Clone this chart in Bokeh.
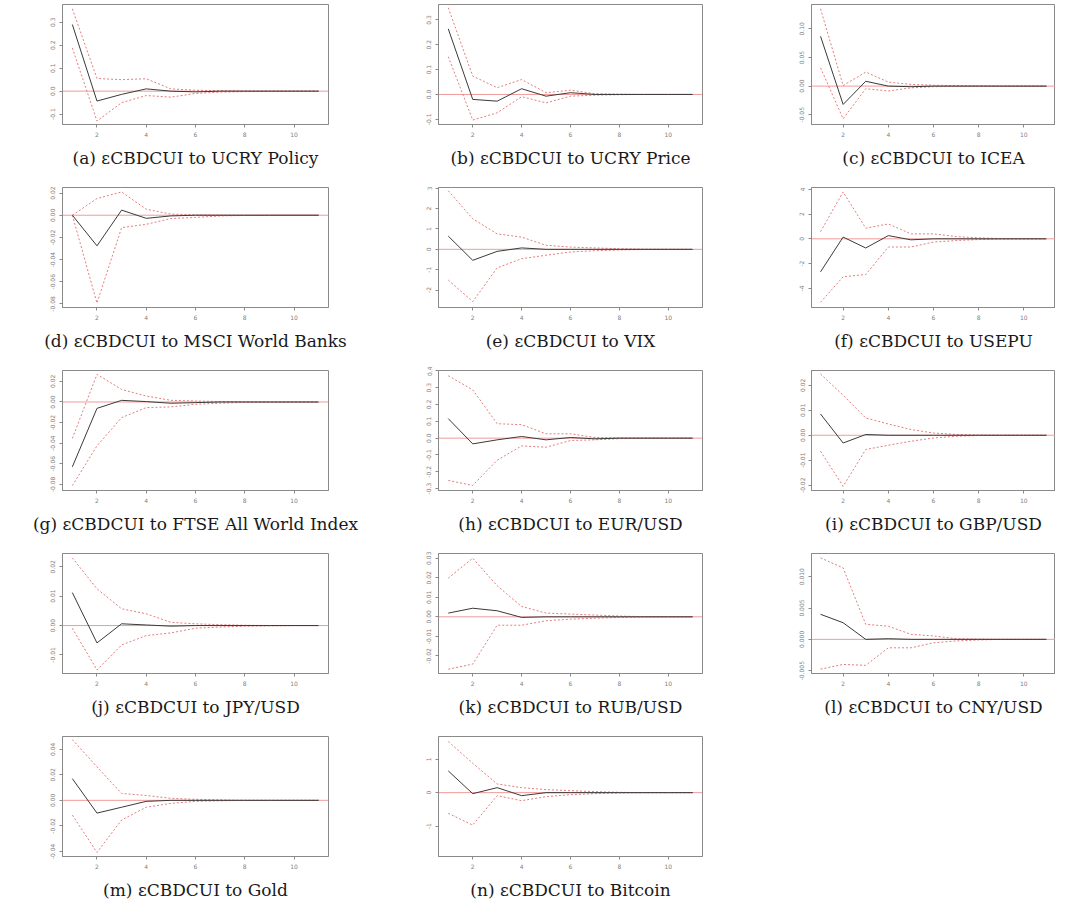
from bokeh.plotting import figure
from bokeh.layouts import gridplot
from bokeh.models import Range1d, FixedTicker, PrintfTickFormatter, Span
from bokeh.embed import file_html
from bokeh.resources import INLINE

horizon = [1, 2, 3, 4, 5, 6, 7, 8, 9, 10, 11]
x_ticks = [2, 4, 6, 8, 10]

captions = [
    "(a) \u03b5CBDCUI to UCRY Policy",
    "(b) \u03b5CBDCUI to UCRY Price",
    "(c) \u03b5CBDCUI to ICEA",
    "(d) \u03b5CBDCUI to MSCI World Banks",
    "(e) \u03b5CBDCUI to VIX",
    "(f) \u03b5CBDCUI to USEPU",
    "(g) \u03b5CBDCUI to FTSE All World Index",
    "(h) \u03b5CBDCUI to EUR/USD",
    "(i) \u03b5CBDCUI to GBP/USD",
    "(j) \u03b5CBDCUI to JPY/USD",
    "(k) \u03b5CBDCUI to RUB/USD",
    "(l) \u03b5CBDCUI to CNY/USD",
    "(m) \u03b5CBDCUI to Gold",
    "(n) \u03b5CBDCUI to Bitcoin",
]

# (a) UCRY Policy
irf_a = [0.290, -0.043, -0.014, 0.010, 0.000, -0.003, 0.000, 0.000, 0.000, 0.000, 0.000]
hi_a = [0.358, 0.055, 0.050, 0.054, 0.010, 0.004, 0.002, 0.001, 0.001, 0.000, 0.000]
lo_a = [0.188, -0.130, -0.050, -0.019, -0.026, -0.010, -0.004, -0.002, -0.001, 0.000, 0.000]
ylim_a = [-0.145, 0.377]
yticks_a = [-0.1, 0.0, 0.1, 0.2, 0.3]

# (b) UCRY Price
irf_b = [0.264, -0.020, -0.027, 0.023, -0.007, 0.007, 0.000, 0.000, 0.000, 0.000, 0.000]
hi_b = [0.349, 0.074, 0.027, 0.060, 0.007, 0.017, 0.003, 0.001, 0.000, 0.000, 0.000]
lo_b = [0.152, -0.103, -0.074, -0.009, -0.034, -0.007, -0.003, -0.001, 0.000, 0.000, 0.000]
ylim_b = [-0.121, 0.362]
yticks_b = [-0.1, 0.0, 0.1, 0.2, 0.3]

# (c) ICEA
irf_c = [0.087, -0.032, 0.0085, 0.000, -0.001, 0.000, 0.000, 0.000, 0.000, 0.000, 0.000]
hi_c = [0.135, 0.001, 0.0245, 0.007, 0.003, 0.0015, 0.001, 0.0005, 0.000, 0.000, 0.000]
lo_c = [0.032, -0.057, -0.0045, -0.0085, -0.003, -0.001, -0.0005, 0.000, 0.000, 0.000, 0.000]
ylim_c = [-0.067, 0.1425]
yticks_c = [-0.05, 0.0, 0.05, 0.10]

# (d) MSCI World Banks
irf_d = [0.000, -0.0276, 0.0046, -0.0028, -0.0006, 0.000, 0.000, 0.000, 0.000, 0.000, 0.000]
hi_d = [0.000, 0.015, 0.021, 0.0054, 0.001, 0.0004, 0.0002, 0.000, 0.000, 0.000, 0.000]
lo_d = [0.000, -0.0792, -0.0112, -0.0082, -0.003, -0.002, -0.0006, -0.0002, 0.000, 0.000, 0.000]
ylim_d = [-0.0832, 0.025]
yticks_d = [-0.08, -0.06, -0.04, -0.02, 0.0, 0.02]

# (e) VIX
irf_e = [0.65, -0.54, -0.10, 0.07, 0.00, 0.00, 0.00, 0.00, 0.00, 0.00, 0.00]
hi_e = [2.88, 1.50, 0.76, 0.60, 0.20, 0.11, 0.07, 0.03, 0.01, 0.00, 0.00]
lo_e = [-1.51, -2.57, -0.91, -0.46, -0.29, -0.13, -0.07, -0.03, -0.01, 0.00, 0.00]
ylim_e = [-2.86, 3.04]
yticks_e = [-2, -1, 0, 1, 2, 3]

# (f) USEPU
irf_f = [-2.66, 0.14, -0.74, 0.26, -0.08, 0.00, 0.00, 0.00, 0.00, 0.00, 0.00]
hi_f = [0.58, 3.78, 0.86, 1.20, 0.40, 0.40, 0.18, 0.08, 0.02, 0.00, 0.00]
lo_f = [-5.12, -3.06, -2.88, -0.66, -0.66, -0.26, -0.14, -0.06, -0.02, 0.00, 0.00]
ylim_f = [-5.54, 4.14]
yticks_f = [-4, -2, 0, 2, 4]

# (g) FTSE All World Index
irf_g = [-0.063, -0.0062, 0.0016, 0.0004, -0.0012, -0.0006, 0.000, 0.000, 0.000, 0.000, 0.000]
hi_g = [-0.0354, 0.0268, 0.0122, 0.0058, 0.0016, 0.001, 0.0004, 0.0002, 0.000, 0.000, 0.000]
lo_g = [-0.0812, -0.0426, -0.0152, -0.0054, -0.0048, -0.0022, -0.0012, -0.0004, -0.0002, 0.000, 0.000]
ylim_g = [-0.086, 0.0306]
yticks_g = [-0.08, -0.06, -0.04, -0.02, 0.0, 0.02]

# (h) EUR/USD
irf_h = [0.116, -0.034, -0.010, 0.010, -0.010, 0.004, -0.004, 0.000, 0.000, 0.000, 0.000]
hi_h = [0.371, 0.287, 0.086, 0.080, 0.026, 0.026, 0.004, 0.002, 0.001, 0.000, 0.000]
lo_h = [-0.251, -0.281, -0.131, -0.046, -0.054, -0.014, -0.010, -0.003, -0.001, 0.000, 0.000]
ylim_h = [-0.311, 0.402]
yticks_h = [-0.3, -0.2, -0.1, 0.0, 0.1, 0.2, 0.3, 0.4]

# (i) GBP/USD
irf_i = [0.0085, -0.0031, 0.0003, 0.000, 0.000, 0.000, 0.000, 0.000, 0.000, 0.000, 0.000]
hi_i = [0.0245, 0.016, 0.0069, 0.0045, 0.0023, 0.0009, 0.0003, 0.0001, 0.000, 0.000, 0.000]
lo_i = [-0.0064, -0.0204, -0.0057, -0.004, -0.0024, -0.0011, -0.0004, -0.0001, 0.000, 0.000, 0.000]
ylim_i = [-0.0221, 0.0259]
yticks_i = [-0.02, -0.01, 0.0, 0.01, 0.02]

# (j) JPY/USD
irf_j = [0.0112, -0.0059, 0.0006, 0.0002, -0.0002, 0.000, 0.000, 0.000, 0.000, 0.000, 0.000]
hi_j = [0.023, 0.0125, 0.0057, 0.004, 0.0011, 0.0006, 0.0003, 0.0001, 0.000, 0.000, 0.000]
lo_j = [-0.0009, -0.0151, -0.0066, -0.0034, -0.0025, -0.0009, -0.0005, -0.0002, -0.0001, 0.000, 0.000]
ylim_j = [-0.0163, 0.0245]
yticks_j = [-0.01, 0.0, 0.01, 0.02]

# (k) RUB/USD
irf_k = [0.0019, 0.0044, 0.0031, -0.0003, 0.000, 0.000, 0.000, 0.000, 0.000, 0.000, 0.000]
hi_k = [0.0198, 0.030, 0.0159, 0.0053, 0.0019, 0.0014, 0.0009, 0.0004, 0.0001, 0.000, 0.000]
lo_k = [-0.0268, -0.0242, -0.0043, -0.0043, -0.002, -0.0012, -0.0007, -0.0003, -0.0001, 0.000, 0.000]
ylim_k = [-0.029, 0.0324]
yticks_k = [-0.02, -0.01, 0.0, 0.01, 0.02, 0.03]

# (l) CNY/USD
irf_l = [0.004, 0.00265, 0.000, 0.0001, 0.000, 0.000, 0.000, 0.000, 0.000, 0.000, 0.000]
hi_l = [0.013, 0.0114, 0.0024, 0.0021, 0.0008, 0.00055, 0.0001, 0.00005, 0.000, 0.000, 0.000]
lo_l = [-0.00475, -0.004, -0.00415, -0.00135, -0.00135, -0.00055, -0.00025, -0.0001, 0.000, 0.000, 0.000]
ylim_l = [-0.00545, 0.0137]
yticks_l = [-0.005, 0.0, 0.005, 0.010]

# (m) Gold
irf_m = [0.017, -0.010, -0.0054, -0.0008, 0.000, 0.000, 0.000, 0.000, 0.000, 0.000, 0.000]
hi_m = [0.0476, 0.0262, 0.0054, 0.0038, 0.0016, 0.0008, 0.0004, 0.000, 0.000, 0.000, 0.000]
lo_m = [-0.0116, -0.0408, -0.0154, -0.0054, -0.0024, -0.0008, -0.0004, 0.000, 0.000, 0.000, 0.000]
ylim_m = [-0.044, 0.050]
yticks_m = [-0.04, -0.02, 0.0, 0.02, 0.04]

# (n) Bitcoin
irf_n = [0.65, -0.03, 0.15, -0.09, 0.00, 0.00, 0.00, 0.00, 0.00, 0.00, 0.00]
hi_n = [1.53, 0.88, 0.26, 0.15, 0.09, 0.06, 0.03, 0.01, 0.00, 0.00, 0.00]
lo_n = [-0.62, -0.97, -0.09, -0.24, -0.12, -0.06, -0.03, -0.01, 0.00, 0.00, 0.00]
ylim_n = [-1.91, 1.68]
yticks_n = [-1, 0, 1]

panels = [
    (irf_a, hi_a, lo_a, ylim_a, yticks_a, "%.1f"),
    (irf_b, hi_b, lo_b, ylim_b, yticks_b, "%.1f"),
    (irf_c, hi_c, lo_c, ylim_c, yticks_c, "%.2f"),
    (irf_d, hi_d, lo_d, ylim_d, yticks_d, "%.2f"),
    (irf_e, hi_e, lo_e, ylim_e, yticks_e, "%d"),
    (irf_f, hi_f, lo_f, ylim_f, yticks_f, "%d"),
    (irf_g, hi_g, lo_g, ylim_g, yticks_g, "%.2f"),
    (irf_h, hi_h, lo_h, ylim_h, yticks_h, "%.1f"),
    (irf_i, hi_i, lo_i, ylim_i, yticks_i, "%.2f"),
    (irf_j, hi_j, lo_j, ylim_j, yticks_j, "%.2f"),
    (irf_k, hi_k, lo_k, ylim_k, yticks_k, "%.2f"),
    (irf_l, hi_l, lo_l, ylim_l, yticks_l, "%.3f"),
    (irf_m, hi_m, lo_m, ylim_m, yticks_m, "%.2f"),
    (irf_n, hi_n, lo_n, ylim_n, yticks_n, "%d"),
]

# column geometry: (left border, frame width, right border)
col_geom = [(62, 266, 32), (78, 264, 2), (107, 244, 0)]


def make_panel(idx):
    irf, hi, lo, ylim, yticks, fmt = panels[idx]
    left, fw, right = col_geom[idx % 3]
    bottom = 52 if idx >= 12 else 59
    p = figure(frame_width=fw, frame_height=120,
               min_border_left=left, min_border_right=right,
               min_border_top=4, min_border_bottom=bottom,
               x_range=Range1d(0.6, 11.4), y_range=Range1d(ylim[0], ylim[1]),
               output_backend="svg", toolbar_location=None,
               title=captions[idx], title_location="below")
    p.grid.visible = False
    p.background_fill_color = "white"
    p.border_fill_color = "white"
    p.outline_line_color = "#8a8a8a"
    p.outline_line_width = 1

    p.title.align = "center"
    p.title.text_font = "DejaVu Serif"
    p.title.text_font_style = "normal"
    p.title.text_font_size = "17px"
    p.title.text_color = "#1a1a1a"
    p.title.standoff = 13

    zero = Span(location=0, dimension="width", line_color="#f29a9a",
                line_width=1, level="underlay")
    p.add_layout(zero)

    p.line(horizon, hi, line_color="#e57c7c", line_width=1, line_dash="2 2")
    p.line(horizon, lo, line_color="#e57c7c", line_width=1, line_dash="2 2")
    p.line(horizon, irf, line_color="#3a3a3a", line_width=1)

    for ax in (p.xaxis[0], p.yaxis[0]):
        ax.axis_line_color = "#8a8a8a"
        ax.major_tick_line_color = "#8a8a8a"
        ax.minor_tick_line_color = None
        ax.major_tick_out = 3
        ax.major_tick_in = 0
        ax.major_label_text_font = "DejaVu Sans"
        ax.major_label_text_font_size = "6px"
        ax.major_label_text_color = "#808080"
        ax.major_label_standoff = 4
    p.xaxis[0].ticker = FixedTicker(ticks=x_ticks)
    p.yaxis[0].ticker = FixedTicker(ticks=yticks)
    p.yaxis[0].formatter = PrintfTickFormatter(format=fmt)
    p.yaxis[0].major_label_orientation = "vertical"
    return p


figs = [make_panel(i) for i in range(14)]
rows = [figs[0:3], figs[3:6], figs[6:9], figs[9:12], [figs[12], figs[13], None]]
grid = gridplot(rows, toolbar_location=None)

open("out.html", "w").write(file_html(grid, INLINE))
